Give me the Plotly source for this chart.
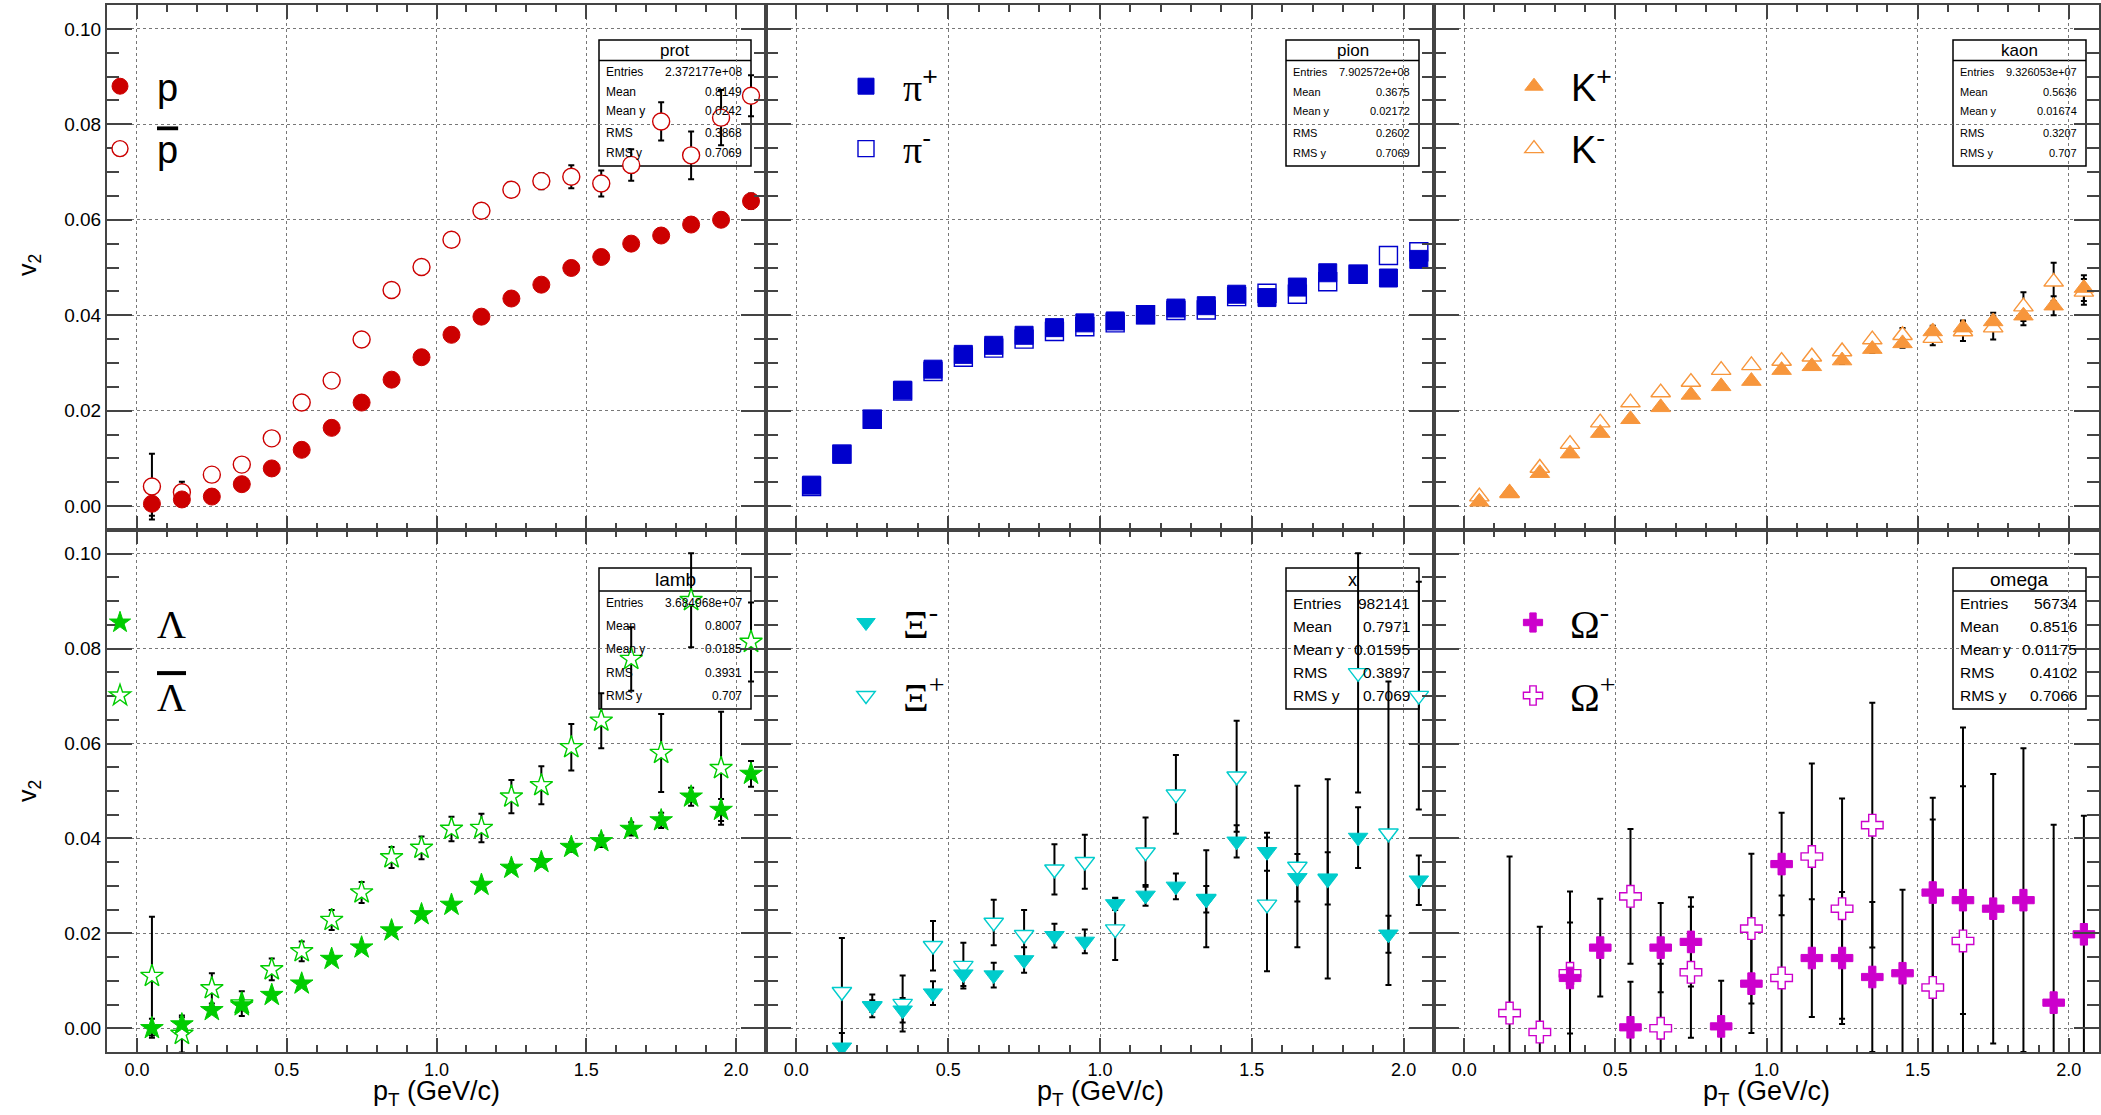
import plotly.graph_objects as go

# ---------------- data ----------------
pt = [0.05, 0.15, 0.25, 0.35, 0.45, 0.55, 0.65, 0.75, 0.85, 0.95, 1.05,
      1.15, 1.25, 1.35, 1.45, 1.55, 1.65, 1.75, 1.85, 1.95, 2.05]

prot_v2 = [0.0005, 0.0014, 0.0020, 0.0046, 0.0079, 0.0118, 0.0164, 0.0217, 0.0265, 0.0312, 0.0359,
           0.0397, 0.0435, 0.0464, 0.0499, 0.0522, 0.0550, 0.0567, 0.0590, 0.0600, 0.0639]
prot_err = [0.0025, 0.0010, 0.0005, 0.0004, 0.0004, 0.0004, 0.0004, 0.0004, 0.0004, 0.0005, 0.0005,
            0.0005, 0.0006, 0.0006, 0.0007, 0.0008, 0.0009, 0.0010, 0.0012, 0.0014, 0.0016]
pbar_v2 = [0.0041, 0.0029, 0.0066, 0.0087, 0.0142, 0.0217, 0.0263, 0.0349, 0.0453, 0.0501, 0.0558,
           0.0619, 0.0663, 0.0681, 0.0690, 0.0676, 0.0715, 0.0806, 0.0735, 0.0814, 0.0860]
pbar_err = [0.0069, 0.0022, 0.0008, 0.0007, 0.0007, 0.0007, 0.0008, 0.0008, 0.0009, 0.0010, 0.0011,
            0.0012, 0.0014, 0.0017, 0.0024, 0.0027, 0.0033, 0.0040, 0.0050, 0.0058, 0.0043]

pip_v2 = [0.0044, 0.0109, 0.0182, 0.0243, 0.0287, 0.0318, 0.0337, 0.0358, 0.0374, 0.0384, 0.0388,
          0.0401, 0.0415, 0.0420, 0.0444, 0.0437, 0.0459, 0.0489, 0.0486, 0.0478, 0.0517]
pip_err = [0.0003, 0.0003, 0.0003, 0.0003, 0.0003, 0.0003, 0.0003, 0.0003, 0.0003, 0.0003, 0.0003,
           0.0004, 0.0004, 0.0004, 0.0005, 0.0005, 0.0006, 0.0007, 0.0008, 0.0009, 0.0010]
pim_v2 = [0.0041, 0.0109, 0.0182, 0.0241, 0.0282, 0.0312, 0.0331, 0.0350, 0.0366, 0.0376, 0.0384,
          0.0401, 0.0410, 0.0411, 0.0439, 0.0446, 0.0444, 0.0470, 0.0486, 0.0525, 0.0533]
pim_err = [0.0003, 0.0003, 0.0003, 0.0003, 0.0003, 0.0003, 0.0003, 0.0003, 0.0003, 0.0003, 0.0003,
           0.0004, 0.0004, 0.0004, 0.0005, 0.0005, 0.0006, 0.0007, 0.0008, 0.0009, 0.0010]

kp_v2 = [0.0009, 0.0028, 0.0069, 0.0110, 0.0153, 0.0182, 0.0207, 0.0233, 0.0251, 0.0262, 0.0285,
         0.0293, 0.0305, 0.0329, 0.0341, 0.0366, 0.0374, 0.0387, 0.0399, 0.0420, 0.0457]
kp_err = [0.0004, 0.0004, 0.0004, 0.0004, 0.0004, 0.0004, 0.0004, 0.0005, 0.0005, 0.0005, 0.0006,
          0.0006, 0.0007, 0.0008, 0.0009, 0.0012, 0.0015, 0.0018, 0.0020, 0.0020, 0.0027]
km_v2 = [0.0020, 0.0027, 0.0080, 0.0130, 0.0175, 0.0217, 0.0238, 0.0260, 0.0285, 0.0295, 0.0304,
         0.0313, 0.0324, 0.0349, 0.0358, 0.0352, 0.0366, 0.0374, 0.0418, 0.0470, 0.0449]
km_err = [0.0004, 0.0004, 0.0004, 0.0004, 0.0004, 0.0004, 0.0005, 0.0005, 0.0005, 0.0006, 0.0006,
          0.0007, 0.0008, 0.0009, 0.0015, 0.0015, 0.0020, 0.0025, 0.0030, 0.0040, 0.0027]

lam_v2 = [0.0000, 0.0008, 0.0038, 0.0048, 0.0070, 0.0094, 0.0146, 0.0170, 0.0206, 0.0240, 0.0260,
          0.0302, 0.0338, 0.0350, 0.0382, 0.0394, 0.0420, 0.0438, 0.0488, 0.0460, 0.0536]
lam_err = [0.0020, 0.0015, 0.0008, 0.0006, 0.0005, 0.0005, 0.0005, 0.0005, 0.0005, 0.0006, 0.0006,
           0.0007, 0.0008, 0.0009, 0.0010, 0.0012, 0.0014, 0.0016, 0.0019, 0.0023, 0.0027]
alam_v2 = [0.0110, -0.0012, 0.0084, 0.0052, 0.0124, 0.0162, 0.0228, 0.0286, 0.0360, 0.0380, 0.0420,
           0.0422, 0.0488, 0.0512, 0.0592, 0.0648, 0.0778, 0.0580, 0.0902, 0.0548, 0.0814]
alam_err = [0.0125, 0.0039, 0.0032, 0.0026, 0.0023, 0.0021, 0.0021, 0.0022, 0.0022, 0.0024, 0.0026,
            0.0030, 0.0035, 0.0040, 0.0049, 0.0058, 0.0067, 0.0082, 0.0099, 0.0119, 0.0083]

xim_v2 = [None, -0.0040, 0.0047, 0.0038, 0.0074, 0.0114, 0.0112, 0.0144, 0.0195, 0.0183, 0.0262,
          0.0280, 0.0299, 0.0272, 0.0394, 0.0372, 0.0317, 0.0316, 0.0402, 0.0198, 0.0312]
xim_err = [None, 0.0030, 0.0012, 0.0026, 0.0025, 0.0025, 0.0026, 0.0027, 0.0025, 0.0025, 0.0013,
           0.0022, 0.0027, 0.0028, 0.0034, 0.0040, 0.0050, 0.0055, 0.0064, 0.0039, 0.0052]
xip_v2 = [None, 0.0077, 0.0047, 0.0052, 0.0174, 0.0132, 0.0223, 0.0197, 0.0335, 0.0351, 0.0209,
          0.0371, 0.0493, 0.0273, 0.0531, 0.0261, 0.0341, 0.0315, 0.0749, 0.0411, 0.0701]
xip_err = [None, 0.0113, 0.0024, 0.0059, 0.0052, 0.0048, 0.0048, 0.0052, 0.0053, 0.0057, 0.0065,
           0.0073, 0.0083, 0.0102, 0.0117, 0.0141, 0.0170, 0.0210, 0.0252, 0.0320, 0.0240]

omm_v2 = [None, None, None, 0.0106, 0.0170, 0.0002, 0.0170, 0.0182, 0.0004, 0.0094, 0.0346,
          0.0148, 0.0148, 0.0108, 0.0116, 0.0286, 0.0270, 0.0252, 0.0270, 0.0054, 0.0198]
omm_err = [None, None, None, 0.0117, 0.0103, 0.0096, 0.0094, 0.0094, 0.0096, 0.0104, 0.0108,
           0.0124, 0.0139, 0.0158, 0.0176, 0.0200, 0.0240, 0.0284, 0.0320, 0.0375, 0.0250]
omp_v2 = [None, 0.0032, -0.0008, 0.0116, None, 0.0278, 0.0000, 0.0118, None, 0.0210, 0.0106,
          0.0362, 0.0252, 0.0428, None, 0.0086, 0.0184, None, None, None, None]
omp_err = [None, 0.0330, 0.0222, 0.0172, None, 0.0142, 0.0136, 0.0138, None, 0.0158, 0.0174,
           0.0196, 0.0232, 0.0258, None, 0.0354, 0.0450, None, None, None, None]

x_ticks = [0.0, 0.5, 1.0, 1.5, 2.0]
y_ticks = [0.00, 0.02, 0.04, 0.06, 0.08, 0.10]

stat_labels = ["Entries", "Mean", "Mean y", "RMS", "RMS y"]
stat_titles = ["prot", "pion", "kaon", "lamb", "x", "omega"]
stat_prot = ["2.372177e+08", "0.8149", "0.0242", "0.3868", "0.7069"]
stat_pion = ["7.902572e+08", "0.3675", "0.02172", "0.2602", "0.7069"]
stat_kaon = ["9.326053e+07", "0.5636", "0.01674", "0.3207", "0.707"]
stat_lamb = ["3.684968e+07", "0.8007", "0.0185", "0.3931", "0.707"]
stat_x = ["982141", "0.7971", "0.01595", "0.3897", "0.7069"]
stat_omega = ["56734", "0.8516", "0.01175", "0.4102", "0.7066"]

names = [("p", "<span style='text-decoration:overline'>p</span>"),
         ("<span style='font-family:Liberation Serif'>π</span><sup>+</sup>",
          "<span style='font-family:Liberation Serif'>π</span><sup>-</sup>"),
         ("K<sup>+</sup>", "K<sup>-</sup>"),
         ("Λ", "<span style='text-decoration:overline'>Λ</span>"),
         ("Ξ<sup>-</sup>", "Ξ<sup>+</sup>"),
         ("Ω<sup>-</sup>", "Ω<sup>+</sup>")]

series = [
    (prot_v2, prot_err, pbar_v2, pbar_err),
    (pip_v2, pip_err, pim_v2, pim_err),
    (kp_v2, kp_err, km_v2, km_err),
    (lam_v2, lam_err, alam_v2, alam_err),
    (xim_v2, xim_err, xip_v2, xip_err),
    (omm_v2, omm_err, omp_v2, omp_err),
]
stats = [stat_prot, stat_pion, stat_kaon, stat_lamb, stat_x, stat_omega]

# ---------------- styles ----------------
W, H = 2101, 1115
cols_px = [(107, 766), (766, 1434), (1434, 2099)]
rows_px = [(5, 530), (530, 1052)]

colors = ["#cc0000", "#0000cc", "#f7963c", "#00cc00", "#00cccc", "#cc00cc"]
symbols = [("circle", 17), ("square", 18), ("triangle-up", 17),
           ("star", 17), ("triangle-down", 17), ("cross", 18)]

leg_x_px = [120, 866, 1534, 120, 866, 1533]
leg_y_px = [86, 86, 86, 621, 621, 621]

box_x_px = [(599, 751), (1286, 1419), (1953, 2086), (599, 751), (1286, 1419), (1953, 2086)]
box_top = [(40, 60.5, 166), (568, 591, 709)]
box_rows = [[71.7, 91.7, 111.5, 132.5, 153], [603, 626, 649, 672.5, 695.5]]
box_font = [12, 11, 11, 12, 15.5, 15.5]
box_title_font = [17, 17, 17, 19, 18, 19]

FRAME = "#444444"
FONT = "Liberation Sans, Arial, Helvetica, sans-serif"
SERIF = "Liberation Serif, Times New Roman, serif"


def px_x(p):
    return p / W


def px_y(p):
    return 1 - p / H


fig = go.Figure()
layout = dict(width=W, height=H, margin=dict(l=0, r=0, t=0, b=0, autoexpand=False),
              paper_bgcolor="white", plot_bgcolor="white", showlegend=True,
              font=dict(family=FONT, color="black"))
shapes, annotations = [], []

for i in range(6):
    r, c = divmod(i, 3)
    n = "" if i == 0 else str(i + 1)
    x0, x1 = cols_px[c]
    y0, y1 = rows_px[r]
    layout["xaxis" + n] = dict(
        domain=[px_x(x0), px_x(x1)], range=[-0.1, 2.1], anchor="y" + n, automargin=False,
        tickvals=x_ticks, tickformat=".1f", ticks="inside", ticklen=14, tickwidth=1.5,
        tickcolor=FRAME, showline=True, linecolor=FRAME, linewidth=2, mirror="ticks",
        showgrid=True, gridcolor="#777777", griddash="dot", gridwidth=1, zeroline=False,
        showticklabels=(r == 1), tickfont=dict(size=18, family=FONT, color="black"),
        minor=dict(dtick=0.1, tick0=0, ticks="inside", ticklen=7, tickwidth=1.5,
                   tickcolor=FRAME, showgrid=False))
    layout["yaxis" + n] = dict(
        domain=[px_y(y1), px_y(y0)], range=[-0.005, 0.105], anchor="x" + n, automargin=False,
        tickvals=y_ticks, tickformat=".2f", ticks="inside", ticklen=25, tickwidth=1.5,
        tickcolor=FRAME, showline=True, linecolor=FRAME, linewidth=2, mirror="ticks",
        showgrid=True, gridcolor="#777777", griddash="dot", gridwidth=1, zeroline=False,
        showticklabels=(c == 0), tickfont=dict(size=19, family=FONT, color="black"),
        minor=dict(dtick=0.005, tick0=0, ticks="inside", ticklen=12, tickwidth=1.5,
                   tickcolor=FRAME, showgrid=False))

    v1, e1, v2, e2 = series[i]
    sym, sz = symbols[i]
    lg = "legend" + n
    # error bars first (drawn under the markers)
    for vals, errs in ((v1, e1), (v2, e2)):
        fig.add_trace(go.Scatter(
            x=pt, y=vals, mode="markers", showlegend=False,
            xaxis="x" + n, yaxis="y" + n,
            marker=dict(size=1, color="rgba(0,0,0,0)"),
            error_y=dict(type="data", array=errs, visible=True, color="black",
                         thickness=2, width=3),
            hoverinfo="skip"))
    # antiparticle: hollow marker (white inside), then particle: filled marker on top
    fig.add_trace(go.Scatter(
        x=pt, y=v2, mode="markers", name=names[i][1], legendrank=2,
        xaxis="x" + n, yaxis="y" + n, legend=lg, legendgroup=f"g{i}b",
        marker=dict(symbol=sym, size=sz, color="white",
                    line=dict(width=1.4, color=colors[i])),
        hoverinfo="skip"))
    fig.add_trace(go.Scatter(
        x=pt, y=v1, mode="markers", name=names[i][0], legendrank=1,
        xaxis="x" + n, yaxis="y" + n, legend=lg, legendgroup=f"g{i}a",
        marker=dict(symbol=sym, size=sz, color=colors[i],
                    line=dict(width=1, color=colors[i])),
        hoverinfo="skip"))

    serif = r == 1
    layout[lg] = dict(
        x=px_x(leg_x_px[i] - 37), y=px_y(leg_y_px[i] - 31), xanchor="left", yanchor="top",
        bgcolor="rgba(0,0,0,0)", borderwidth=0, itemwidth=64,
        tracegroupgap=(18 if serif else 10), itemclick=False, traceorder="grouped",
        font=dict(size=40 if serif else 38, family=(SERIF if serif else FONT), color="black"))

    # stats box
    bx0, bx1 = box_x_px[i]
    bt, bs, bb = box_top[r]
    shapes.append(dict(type="rect", xref="paper", yref="paper", x0=px_x(bx0), x1=px_x(bx1),
                       y0=px_y(bb), y1=px_y(bt), fillcolor="white",
                       line=dict(color="black", width=1.5), layer="between"))
    shapes.append(dict(type="line", xref="paper", yref="paper", x0=px_x(bx0), x1=px_x(bx1),
                       y0=px_y(bs), y1=px_y(bs), line=dict(color="black", width=1.5),
                       layer="between"))
    annotations.append(dict(xref="paper", yref="paper", x=px_x((bx0 + bx1) / 2),
                            y=px_y((bt + bs) / 2), text=stat_titles[i], showarrow=False,
                            xanchor="center", yanchor="middle",
                            font=dict(size=box_title_font[i], family=FONT, color="black")))
    for j, lab in enumerate(stat_labels):
        annotations.append(dict(xref="paper", yref="paper", x=px_x(bx0 + 5),
                                y=px_y(box_rows[r][j]), text=lab, showarrow=False,
                                xanchor="left", yanchor="middle",
                                font=dict(size=box_font[i], family=FONT, color="black")))
        annotations.append(dict(xref="paper", yref="paper", x=px_x(bx1 - 7),
                                y=px_y(box_rows[r][j]), text=stats[i][j], showarrow=False,
                                xanchor="right", yanchor="middle",
                                font=dict(size=box_font[i], family=FONT, color="black")))

# axis titles
for yc in (265, 791):
    annotations.append(dict(xref="paper", yref="paper", x=px_x(29), y=px_y(yc),
                            text="v<sub>2</sub>", showarrow=False, textangle=-90,
                            xanchor="center", yanchor="middle",
                            font=dict(size=25, family=FONT, color="black")))
for c in range(3):
    x0, x1 = cols_px[c]
    annotations.append(dict(xref="paper", yref="paper", x=px_x((x0 + x1) / 2), y=px_y(1093),
                            text="p<sub>T</sub> (GeV/c)", showarrow=False,
                            xanchor="center", yanchor="middle",
                            font=dict(size=27, family=FONT, color="black")))

layout["shapes"] = shapes
layout["annotations"] = annotations
fig.update_layout(**layout)
fig.write_html("out.html", config={"displayModeBar": False},
               post_script="document.body.style.margin='0px';"
                           "document.body.style.overflow='hidden';")
